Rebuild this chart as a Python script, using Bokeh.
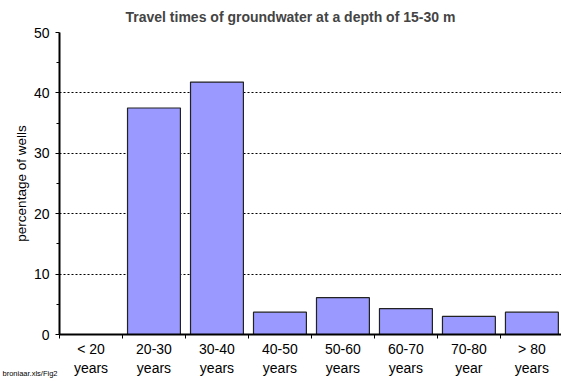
from bokeh.plotting import figure
from bokeh.models import FixedTicker, Range1d, Title, ColumnDataSource
from bokeh.embed import file_html
from bokeh.resources import INLINE

categories = ["< 20\nyears", "20-30\nyears", "30-40\nyears", "40-50\nyears",
              "50-60\nyears", "60-70\nyears", "70-80\nyear", "> 80\nyears"]
values = [0, 37.5, 41.8, 3.7, 6.1, 4.3, 3.0, 3.7]
y_ticks = [0, 10, 20, 30, 40, 50]

xs = [i + 0.5 for i in range(len(categories))]
src = ColumnDataSource(dict(x=xs, top=values))

p = figure(width=561, height=379, output_backend="svg", toolbar_location=None,
           x_range=Range1d(0, 7.97), y_range=Range1d(0, 50),
           min_border_left=59, min_border_right=0, min_border_top=32, min_border_bottom=45)
p.outline_line_color = None
p.background_fill_color = "white"
p.border_fill_color = "white"

p.vbar(x="x", top="top", width=0.84, bottom=0, source=src,
       fill_color="#9999FF", line_color="#222222", line_width=1.2)

p.title.text = "Travel times of groundwater at a depth of 15-30 m"
p.title.text_font = "Liberation Sans"
p.title.text_font_size = "14px"
p.title.text_font_style = "bold"
p.title.align = "left"
p.title.offset = 66
p.title.vertical_align = "middle"
p.title.standoff = 13

# x axis
xa = p.xaxis[0]
xa.ticker = FixedTicker(ticks=xs, minor_ticks=list(range(0, 9)))
xa.major_label_overrides = {x: c for x, c in zip(xs, categories)}
xa.major_tick_in = 0
xa.major_tick_out = 0
xa.minor_tick_in = 0
xa.minor_tick_out = 4
xa.minor_tick_line_color = "black"
xa.axis_line_color = "black"
xa.axis_line_width = 2
xa.major_label_text_font = "Liberation Sans"
xa.major_label_text_font_size = "14px"
xa.major_label_text_color = "black"
xa.major_label_standoff = 2

# y axis
ya = p.yaxis[0]
ya.ticker = FixedTicker(ticks=y_ticks, minor_ticks=[5, 15, 25, 35, 45])
ya.major_tick_in = 0
ya.major_tick_out = 4
ya.minor_tick_in = 0
ya.minor_tick_out = 3
ya.major_tick_line_color = "black"
ya.minor_tick_line_color = "black"
ya.axis_line_color = "black"
ya.axis_line_width = 2
ya.major_label_text_font = "Liberation Sans"
ya.major_label_text_font_size = "14px"
ya.major_label_text_color = "black"
ya.major_label_standoff = 6
ya.axis_label = "percentage of wells"
ya.axis_label_text_font = "Liberation Sans"
ya.axis_label_text_font_size = "13.5px"
ya.axis_label_text_font_style = "normal"
ya.axis_label_text_color = "black"
ya.axis_label_standoff = 2

p.xgrid.grid_line_color = None
p.ygrid.ticker = FixedTicker(ticks=[10, 20, 30, 40, 50])
p.ygrid.grid_line_color = "black"
p.ygrid.grid_line_dash = "2 2"
p.ygrid.grid_line_width = 1.2

note = Title(text="broniaar.xls/Fig2", align="left", offset=-57, standoff=-20,
             vertical_align="top",
             text_font="Liberation Sans", text_font_size="7.5px",
             text_font_style="normal", text_color="black")
p.add_layout(note, "below")

open("out.html", "w").write(file_html(p, INLINE))
